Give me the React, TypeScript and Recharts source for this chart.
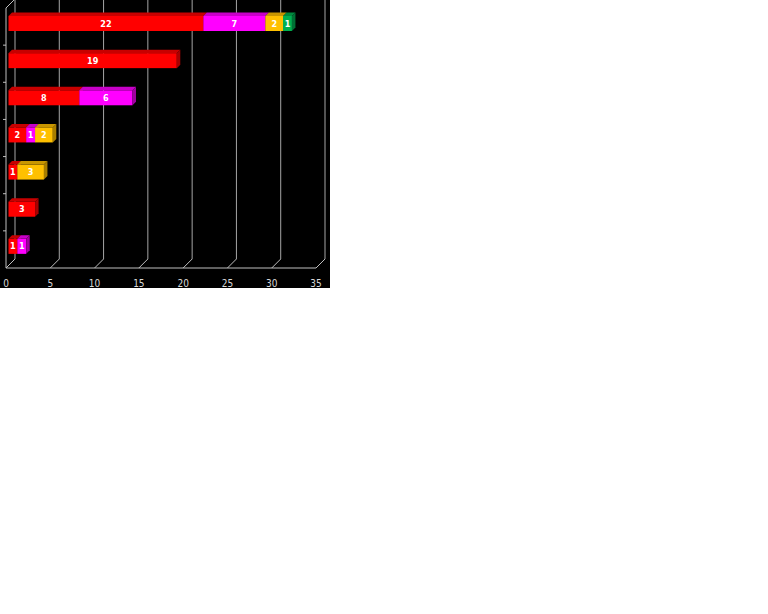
import { Bar, BarChart, CartesianGrid, LabelList, XAxis, YAxis } from "recharts";

const rows = ["1", "2", "3", "4", "5", "6", "7"];
const redValues = [22, 19, 8, 2, 1, 3, 1];
const magentaValues = [7, null, 6, 1, null, null, 1];
const yellowValues = [2, null, null, 2, 3, null, null];
const greenValues = [1, null, null, null, null, null, null];
const xTicks = [0, 5, 10, 15, 20, 25, 30, 35];

const data = rows.map((row, i) => ({
  row,
  red: redValues[i],
  magenta: magentaValues[i],
  yellow: yellowValues[i],
  green: greenValues[i],
}));

const SERIES = [
  { key: "red", front: "#ff0000", top: "#c80000", side: "#a80000" },
  { key: "magenta", front: "#ff00ff", top: "#c800c8", side: "#a000a0" },
  { key: "yellow", front: "#ffc000", top: "#c89600", side: "#a87e00" },
  { key: "green", front: "#00b050", top: "#008a3e", side: "#007034" },
];

const FONT = "'DejaVu Sans Condensed', 'Liberation Sans Narrow', sans-serif";
const GRID = "#a6a6a6";
const FLOOR = "#bfbfbf";
const WALL = 9; // depth of the floor / back wall
const DEPTH = 3.5; // depth of a bar
const SHIFT_X = 2.5;
const SHIFT_Y = -3;

function makeShape(c: (typeof SERIES)[number]) {
  return (props: any) => {
    const { x, y, width, height } = props;
    if (!width || width < 0.5) return <g />;
    const x0 = x + SHIFT_X;
    const y0 = y + SHIFT_Y;
    const x1 = x0 + width;
    const y1 = y0 + height;
    return (
      <g>
        <rect x={x0} y={y0} width={width} height={height} fill={c.front} />
        <polygon
          points={`${x0},${y0} ${x0 + DEPTH},${y0 - DEPTH} ${x1 + DEPTH},${y0 - DEPTH} ${x1},${y0}`}
          fill={c.top}
        />
        <polygon
          points={`${x1},${y0} ${x1 + DEPTH},${y0 - DEPTH} ${x1 + DEPTH},${y1 - DEPTH} ${x1},${y1}`}
          fill={c.side}
        />
      </g>
    );
  };
}

function SegmentLabel(props: any) {
  const { x, y, width, height, value } = props;
  if (value == null || !width || width < 0.5) return null;
  return (
    <text
      x={x + SHIFT_X + width / 2}
      y={y + SHIFT_Y + height / 2}
      textAnchor="middle"
      dominantBaseline="central"
      fill="#ffffff"
      fontSize={9}
      fontWeight="bold"
      fontFamily={FONT}
    >
      {value}
    </text>
  );
}

function GridLine(props: any) {
  const { x1, y1, y2, index } = props;
  return (
    <g>
      <line x1={x1 + WALL} y1={y1 - WALL} x2={x1 + WALL} y2={y2 - WALL} stroke={GRID} />
      <line x1={x1} y1={y2} x2={x1 + WALL} y2={y2 - WALL} stroke={FLOOR} />
      {index === 0 && (
        <>
          <line x1={x1} y1={y1} x2={x1 + WALL} y2={y1 - WALL} stroke={FLOOR} />
          <line x1={x1} y1={y1} x2={x1} y2={y2} stroke={FLOOR} />
          {/* small marks between the rows on the left wall */}
          {rows.slice(1).map((r, k) => {
            const ty = y1 + ((y2 - y1) * (k + 1)) / rows.length;
            return <line key={r} x1={x1 - 3} y1={ty} x2={x1} y2={ty} stroke={FLOOR} />;
          })}
        </>
      )}
    </g>
  );
}

export default function App() {
  return (
    <div
      style={{
        position: "absolute",
        left: 0,
        top: 0,
        width: 330,
        height: 288,
        background: "#000000",
      }}
    >
      <BarChart
        width={330}
        height={288}
        data={data}
        layout="vertical"
        barSize={15}
        margin={{ top: 8, right: 14, left: 6, bottom: 0 }}
      >
        <CartesianGrid horizontal={false} vertical={GridLine} />
        <XAxis
          type="number"
          domain={[0, 35]}
          ticks={xTicks}
          height={20}
          axisLine={{ stroke: FLOOR }}
          tickLine={false}
          tickMargin={6}
          tick={{ fill: "#d9d9d9", fontSize: 10, fontFamily: FONT }}
        />
        <YAxis type="category" dataKey="row" hide />
        {SERIES.map((c) => (
          <Bar
            key={c.key}
            dataKey={c.key}
            stackId="a"
            fill={c.front}
            shape={makeShape(c)}
            isAnimationActive={false}
          >
            <LabelList dataKey={c.key} content={SegmentLabel} />
          </Bar>
        ))}
      </BarChart>
    </div>
  );
}
